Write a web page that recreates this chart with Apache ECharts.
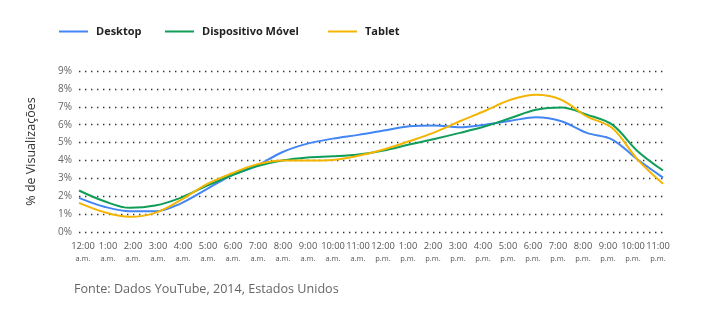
<!DOCTYPE html>
<html><head><meta charset="utf-8">
<script src="https://cdn.jsdelivr.net/npm/echarts@6/dist/echarts.min.js"></script>
<style>html,body{margin:0;padding:0;background:#fff}#c{width:704px;height:327px}</style>
</head><body><div id="c"></div>
<script>
const hours = ['12:00','1:00','2:00','3:00','4:00','5:00','6:00','7:00','8:00','9:00','10:00','11:00',
               '12:00','1:00','2:00','3:00','4:00','5:00','6:00','7:00','8:00','9:00','10:00','11:00'];
const periods = ['a.m.','a.m.','a.m.','a.m.','a.m.','a.m.','a.m.','a.m.','a.m.','a.m.','a.m.','a.m.',
                 'p.m.','p.m.','p.m.','p.m.','p.m.','p.m.','p.m.','p.m.','p.m.','p.m.','p.m.','p.m.'];
const desktop = [1.91,1.41,1.16,1.16,1.59,2.37,3.16,3.7,4.46,4.94,5.22,5.43,5.67,5.91,5.96,5.85,6.0,6.22,6.41,6.19,5.54,5.17,4.05,3.04];
const movel   = [2.32,1.72,1.35,1.48,1.91,2.56,3.16,3.68,4.0,4.17,4.23,4.33,4.56,4.89,5.2,5.54,5.91,6.37,6.83,6.96,6.56,6.0,4.52,3.44];
const tablet  = [1.63,1.11,0.85,1.07,1.78,2.65,3.27,3.78,4.0,4.0,4.03,4.26,4.61,5.07,5.57,6.19,6.78,7.39,7.67,7.39,6.46,5.81,4.05,2.7];
const yTicks = [0,1,2,3,4,5,6,7,8,9];
const names = ['Desktop','Dispositivo Móvel','Tablet'];
const colors = ['#4285F4','#0F9D58','#F4B400'];
const sourceText = 'Fonte: Dados YouTube, 2014, Estados Unidos';

const chart = echarts.init(document.getElementById('c'));
const legendBase = {
  top: 21, itemWidth: 29, itemHeight: 2, icon: 'rect',
  textStyle: {fontFamily: 'Open Sans', fontWeight: 'bold', fontSize: 11, color: '#222', padding: [0,0,0,3]}
};
chart.setOption({
  animation: false,
  color: colors,
  legend: [
    Object.assign({}, legendBase, {left: 54, data: [names[0]]}),
    Object.assign({}, legendBase, {left: 160, data: [names[1]]}),
    Object.assign({}, legendBase, {left: 323, data: [names[2]]})
  ],
  grid: [
    {left: 79, right: 41, top: 71, bottom: 95},
    {left: 83, right: 46, top: 71, bottom: 95}
  ],
  xAxis: [
    {type: 'category', gridIndex: 0, data: hours, boundaryGap: false,
     axisLine: {show: false}, axisTick: {show: false}, axisLabel: {show: false}},
    {type: 'category', gridIndex: 1, data: hours.map((h,i)=>h+'\n'+periods[i]), boundaryGap: false,
     axisLine: {show: false}, axisTick: {show: false},
     axisLabel: {interval: 0, margin: 7,
       formatter: function(v){ const p = v.split('\n'); return '{h|'+p[0]+'}\n{p|'+p[1]+'}'; },
       rich: {h: {fontFamily: 'Open Sans', fontSize: 9.3, color: '#555', lineHeight: 14},
              p: {fontFamily: 'Open Sans', fontSize: 7.5, color: '#555', lineHeight: 12}}}}
  ],
  yAxis: [
    {type: 'value', gridIndex: 0, min: yTicks[0], max: yTicks[yTicks.length-1], interval: 1,
     name: '% de Visualizações', nameLocation: 'middle', nameGap: 41, nameRotate: 90,
     nameTextStyle: {fontFamily: 'Open Sans', fontSize: 12.5, color: '#333'},
     axisLine: {show: false}, axisTick: {show: false},
     axisLabel: {margin: 7, formatter: '{value}%', fontFamily: 'Open Sans', fontSize: 10, color: '#666'},
     splitLine: {lineStyle: {color: '#333', width: 1.4, type: [1.4, 4.6]}}},
    {type: 'value', gridIndex: 1, min: 0, max: 9, show: false}
  ],
  series: [
    {name: names[0], type: 'line', data: desktop, smooth: 0.35, showSymbol: false, lineStyle: {width: 2}, xAxisIndex: 0, yAxisIndex: 0},
    {name: names[1], type: 'line', data: movel, smooth: 0.35, showSymbol: false, lineStyle: {width: 2}, xAxisIndex: 0, yAxisIndex: 0},
    {name: names[2], type: 'line', data: tablet, smooth: 0.35, showSymbol: false, lineStyle: {width: 2}, xAxisIndex: 0, yAxisIndex: 0}
  ],
  graphic: [{type: 'text', left: 74, top: 283,
    style: {text: sourceText, fontFamily: 'Open Sans', fontSize: 12.6, fill: '#666'}}]
});
</script></body></html>
